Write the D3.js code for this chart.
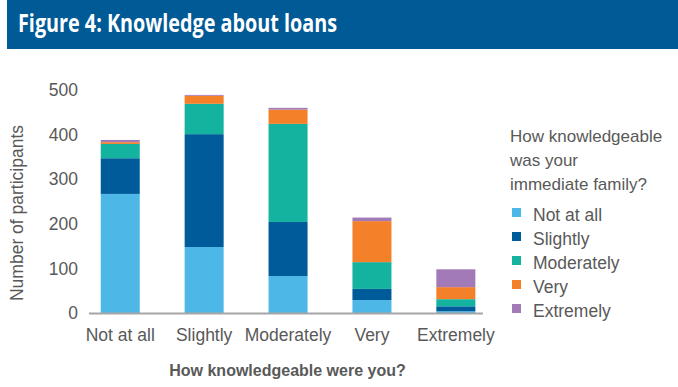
<!DOCTYPE html>
<html>
<head>
<meta charset="utf-8">
<script src="https://cdn.jsdelivr.net/npm/d3@7"></script>
<style>
  body { margin: 0; background: #fff; }
  text { font-family: "Liberation Sans", Arial, sans-serif; fill: #595959; }
</style>
</head>
<body>
<script>
// Categories on the x axis (own knowledge)
let categories = ["Not at all", "Slightly", "Moderately", "Very", "Extremely"];

// Series = how knowledgeable the immediate family was
let seriesNames = ["Not at all", "Slightly", "Moderately", "Very", "Extremely"];
let famNotAtAll = [267, 148, 83, 29, 4];
let famSlightly = [80, 253, 121, 25, 11];
let famModerately = [32, 68, 220, 60, 16];
let famVery = [4, 18, 32, 92, 27];
let famExtremely = [5, 2, 4, 8, 40];

let yTicks = [0, 100, 200, 300, 400, 500];
let colors = ["#4db8e8", "#005b9a", "#13b3a0", "#f5802a", "#a27ab8"];

let width = 678;
let height = 387;

let svg = d3.select("body")
  .append("svg")
  .attr("width", width)
  .attr("height", height);

// Title banner
svg.append("rect")
  .attr("x", 7)
  .attr("y", 0)
  .attr("width", width - 7)
  .attr("height", 49)
  .style("fill", "#005a96");

// the original uses a condensed face, so squeeze the text to its width
svg.append("text")
  .attr("x", 18)
  .attr("y", 32)
  .attr("textLength", 319)
  .attr("lengthAdjust", "spacingAndGlyphs")
  .style("font-family", "'Open Sans', sans-serif")
  .style("font-weight", "bold")
  .style("font-size", "25px")
  .style("fill", "#fff")
  .text("Figure 4: Knowledge about loans");

// build rows for the stack
let series = [famNotAtAll, famSlightly, famModerately, famVery, famExtremely];
let rows = categories.map((c, i) => {
  let row = { category: c };
  seriesNames.forEach((s, j) => { row[s] = series[j][i]; });
  return row;
});

let stacked = d3.stack().keys(seriesNames)(rows);

let x = d3.scaleBand()
  .domain(categories)
  .range([78.3, 497.8])
  .paddingInner(0.535)
  .paddingOuter(0.2675);

let y = d3.scaleLinear()
  .domain([0, 500])
  .range([313, 90]);

// bars
svg.selectAll(".layer")
  .data(stacked)
  .enter()
  .append("g")
  .attr("class", "layer")
  .style("fill", (d, i) => colors[i])
  .selectAll("rect")
  .data(d => d)
  .enter()
  .append("rect")
  .attr("x", d => x(d.data.category))
  .attr("width", x.bandwidth())
  .attr("y", d => y(d[1]))
  .attr("height", d => y(d[0]) - y(d[1]));

// baseline
svg.append("line")
  .attr("x1", 89)
  .attr("x2", 483)
  .attr("y1", y(0) + 0.5)
  .attr("y2", y(0) + 0.5)
  .style("stroke", "#a6a6a6")
  .style("stroke-width", 2);

// y axis (labels only)
let yAxis = svg.append("g")
  .attr("transform", "translate(82, 0)")
  .call(d3.axisLeft(y).tickValues(yTicks).tickSize(0).tickPadding(4));
yAxis.select(".domain").remove();
yAxis.selectAll("text")
  .style("font-size", "17.5px")
  .style("font-family", "'Liberation Sans', Arial, sans-serif")
  .attr("fill", "#595959");

// x axis (labels only)
let xAxis = svg.append("g")
  .attr("transform", `translate(0, ${y(0)})`)
  .call(d3.axisBottom(x).tickSize(0).tickPadding(16));
xAxis.select(".domain").remove();
xAxis.selectAll("text")
  .style("font-size", "17.5px")
  .style("font-family", "'Liberation Sans', Arial, sans-serif")
  .attr("fill", "#595959");

// axis titles
svg.append("text")
  .attr("x", 287.5)
  .attr("y", 376)
  .style("text-anchor", "middle")
  .style("font-weight", "bold")
  .style("font-size", "16px")
  .text("How knowledgeable were you?");

svg.append("text")
  .attr("transform", "translate(23, 213) rotate(-90)")
  .style("text-anchor", "middle")
  .style("font-size", "17.5px")
  .text("Number of participants");

// legend
let legendTitle = ["How knowledgeable", "was your", "immediate family?"];
svg.selectAll(".ltitle")
  .data(legendTitle)
  .enter()
  .append("text")
  .attr("class", "ltitle")
  .attr("x", 510)
  .attr("y", (d, i) => 142 + i * 24)
  .style("font-size", "17px")
  .text(d => d);

let legend = svg.selectAll(".litem")
  .data(seriesNames)
  .enter()
  .append("g")
  .attr("class", "litem")
  .attr("transform", (d, i) => `translate(512, ${221 + i * 24})`);

legend.append("rect")
  .attr("x", 0)
  .attr("y", -13)
  .attr("width", 9)
  .attr("height", 9)
  .style("fill", (d, i) => colors[i]);

legend.append("text")
  .attr("x", 21)
  .attr("y", 0)
  .style("font-size", "17.5px")
  .text(d => d);
</script>
</body>
</html>
